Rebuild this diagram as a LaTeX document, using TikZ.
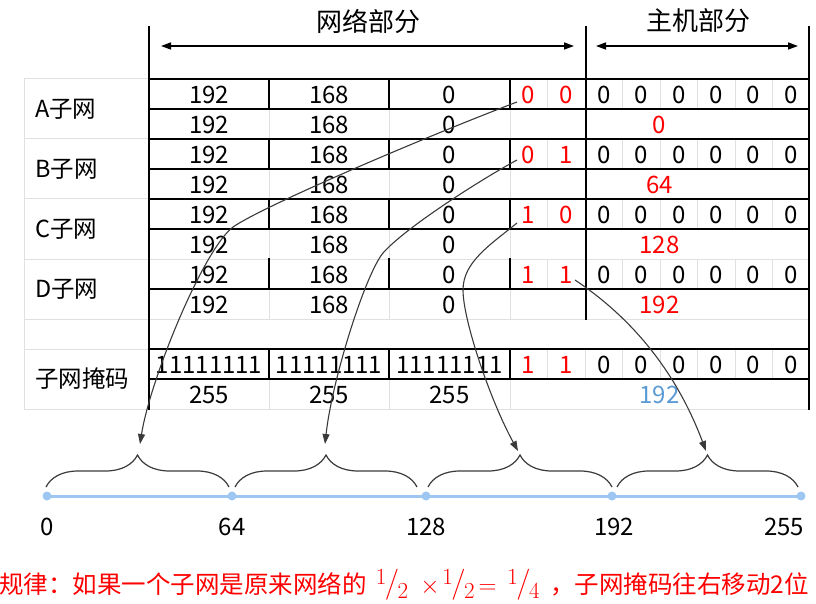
\documentclass[tikz,border=0pt]{standalone}
\usepackage{fontspec}
\newfontfamily\cjk{Noto Sans CJK SC}
\usetikzlibrary{arrows.meta,decorations.pathreplacing}
\definecolor{gridgray}{HTML}{E0E0E0}
\definecolor{linblue}{HTML}{9DC6F2}
\definecolor{maskblue}{HTML}{5B9BD5}
\definecolor{conngray}{HTML}{3A3A3A}
\definecolor{hred}{HTML}{FF0000}
\newcommand\slfrac[2]{\raisebox{9pt}{\fontsize{23}{23}\selectfont #1}\kern-1.5pt\raisebox{1pt}{\fontsize{31}{31}\selectfont /}\kern-1.5pt\raisebox{-5.5pt}{\fontsize{23}{23}\selectfont #2}}
\begin{document}
\begin{tikzpicture}[x=1pt,y=-1pt,
  boldrule/.style={line width=2pt,draw=black,line cap=rect},
  gridline/.style={line width=1pt,draw=gridgray},
  cell/.style={font=\cjk\fontsize{24}{24}\selectfont,inner sep=0pt},
  redcell/.style={cell,text=hred},
  rowlabel/.style={font=\cjk\fontsize{23.5}{24}\selectfont,anchor=west,inner sep=0pt},
  header/.style={font=\cjk\fontsize{26}{26}\selectfont,inner sep=0pt},
  spanarrow/.style={line width=1.5pt,{Triangle[length=10pt,width=7pt]}-{Triangle[length=10pt,width=7pt]}},
  curvearrow/.style={line width=1.1pt,draw=conngray,-{Triangle[length=10pt,width=7pt]}},
  bracestyle/.style={decorate,decoration={brace,amplitude=32pt},line width=1.2pt,draw=conngray},
  ticklabel/.style={font=\cjk\fontsize{24}{24}\selectfont,inner sep=0pt},
  ruletext/.style={font=\cjk\fontsize{24.5}{25}\selectfont,text=hred,inner sep=0pt},
  mathpart/.style={font=\rmfamily\fontsize{23}{23}\selectfont,text=hred,inner sep=0pt}
]
\useasboundingbox (0,0) rectangle (816,604);
% ---------- light grid ----------
\foreach \y in {79,139,199,259,319,349,409} \draw[gridline] (24,\y) -- (149,\y);
\draw[gridline] (24,79) -- (24,409);
\foreach \y in {259,319,409} \draw[gridline] (149,\y) -- (809,\y);
\foreach \t in {79,139,199,259,349} \foreach \x in {547,622.3,660,697.7,735,772.3} \draw[gridline] (\x,\t) -- (\x,\t+30);
\draw[gridline] (585.5,349) -- (585.5,379);
\foreach \t in {109,169,229,289,379} \foreach \x in {269,389,510} \draw[gridline] (\x,\t) -- (\x,\t+30);
% ---------- bold rules ----------
\foreach \y in {79,109,139,169,199,229,289,349,379} \draw[boldrule] (149,\y) -- (809,\y);
\draw[boldrule] (149,27) -- (149,409);
\draw[boldrule] (585.5,27) -- (585.5,319);
\draw[boldrule] (809,27) -- (809,409);
\foreach \t in {79,139,199,259,349} \foreach \x in {269,389,510} \draw[boldrule] (\x,\t) -- (\x,\t+30);
% ---------- headers ----------
\node[header] (nethdr) at (368,21) {网络部分};
\node[header] (hosthdr) at (698,21) {主机部分};
\coordinate (netL) at (161,46); \coordinate (netR) at (574,46);
\coordinate (hostL) at (596,46); \coordinate (hostR) at (798,46);
\draw[spanarrow] (netL) -- (netR);
\draw[spanarrow] (hostL) -- (hostR);
% ---------- subnet rows ----------
\foreach \sn/\ya/\yb/\ba/\bb/\v in {A/94/124/0/0/0,B/154/184/0/1/64,C/214/244/1/0/128,D/274/304/1/1/192}{
  \node[rowlabel] (\sn-lbl) at (35,\ya+15) {\sn 子网};
  \node[cell] (\sn-o1) at (209,\ya+1) {192};
  \node[cell] (\sn-o2) at (329,\ya+1) {168};
  \node[cell] (\sn-o3) at (449.5,\ya+1) {0};
  \node[redcell] (\sn-b1) at (528.5,\ya+1) {\ba};
  \node[redcell] (\sn-b2) at (566,\ya+1) {\bb};
  \foreach \x [count=\i] in {604,641,679,716,753.5,790.8} \node[cell] (\sn-h\i) at (\x,\ya+1) {0};
  \node[cell] (\sn-p1) at (209,\yb+1) {192};
  \node[cell] (\sn-p2) at (329,\yb+1) {168};
  \node[cell] (\sn-p3) at (449.5,\yb+1) {0};
  \node[redcell] (\sn-val) at (659.5,\yb+1) {\v};
}
% ---------- mask rows ----------
\node[rowlabel] (mlbl) at (35,379) {子网掩码};
\foreach \x [count=\i] in {209,329,449.5} \node[cell] (m-o\i) at (\x,365) {11111111};
\node[redcell] (m-b1) at (528.5,365) {1};
\node[redcell] (m-b2) at (566,365) {1};
\foreach \x [count=\i] in {604,641,679,716,753.5,790.8} \node[cell] (m-h\i) at (\x,365) {0};
\foreach \x [count=\i] in {209,329,449.5} \node[cell] (n-o\i) at (\x,395) {255};
\node[cell,text=maskblue] (n-val) at (659.5,395) {192};
% ---------- number line ----------
\foreach \x [count=\i] in {47,232,426,612,801} \coordinate (p\i) at (\x,496);
\draw[line width=3pt,draw=linblue] (p1) -- (p5);
\foreach \i in {1,...,5} \fill[linblue] (p\i) circle (4.5pt);
\node[ticklabel] (t1) at (47,527) {0};
\node[ticklabel] (t2) at (232,527) {64};
\node[ticklabel] (t3) at (426,527) {128};
\node[ticklabel] (t4) at (614,527) {192};
\node[ticklabel] (t5) at (784,527) {255};
% ---------- braces ----------
\foreach \a/\b [count=\i] in {46/229,235/417,428/612,617/798}{
  \coordinate (bl\i) at (\a,487); \coordinate (br\i) at (\b,487);
  \draw[bracestyle] (bl\i) -- (br\i);
}
% ---------- curved arrows ----------
\coordinate (s1) at (517,102); \coordinate (m1) at (233,227); \coordinate (e1) at (140,444);
\coordinate (s2) at (517,160); \coordinate (m2) at (383,253); \coordinate (e2) at (325,444);
\coordinate (s3) at (517,223); \coordinate (m3) at (463,290); \coordinate (e3) at (518,451);
\coordinate (s4) at (575,280); \coordinate (e4) at (706,451);
\draw[curvearrow] (s1) .. controls (430,135) and (265,205) .. (m1) .. controls (203,250) and (150,380) .. (e1);
\draw[curvearrow] (s2) .. controls (480,180) and (405,228) .. (m2) .. controls (365,275) and (332,380) .. (e2);
\draw[curvearrow] (s3) .. controls (490,245) and (463,262) .. (m3) .. controls (463,320) and (490,400) .. (e3);
\draw[curvearrow] (s4) .. controls (650,330) and (685,395) .. (e4);
% ---------- rule text ----------
\node[ruletext,anchor=base west] (rule1) at (-1,593) {规律：如果一个子网是原来网络的};
\node[mathpart,anchor=base] (frac1) at (392,593) {\slfrac12};
\node[mathpart,anchor=base] (times) at (430,593) {$\times$};
\node[mathpart,anchor=base] (frac2) at (458.5,593) {\slfrac12};
\node[mathpart,anchor=base] (eqs) at (487.5,593) {$=$};
\node[mathpart,anchor=base] (frac3) at (523.5,593) {\slfrac14};
\node[ruletext,anchor=base east] (rule2) at (809,593) {，子网掩码往右移动2位};
\end{tikzpicture}
\end{document}
